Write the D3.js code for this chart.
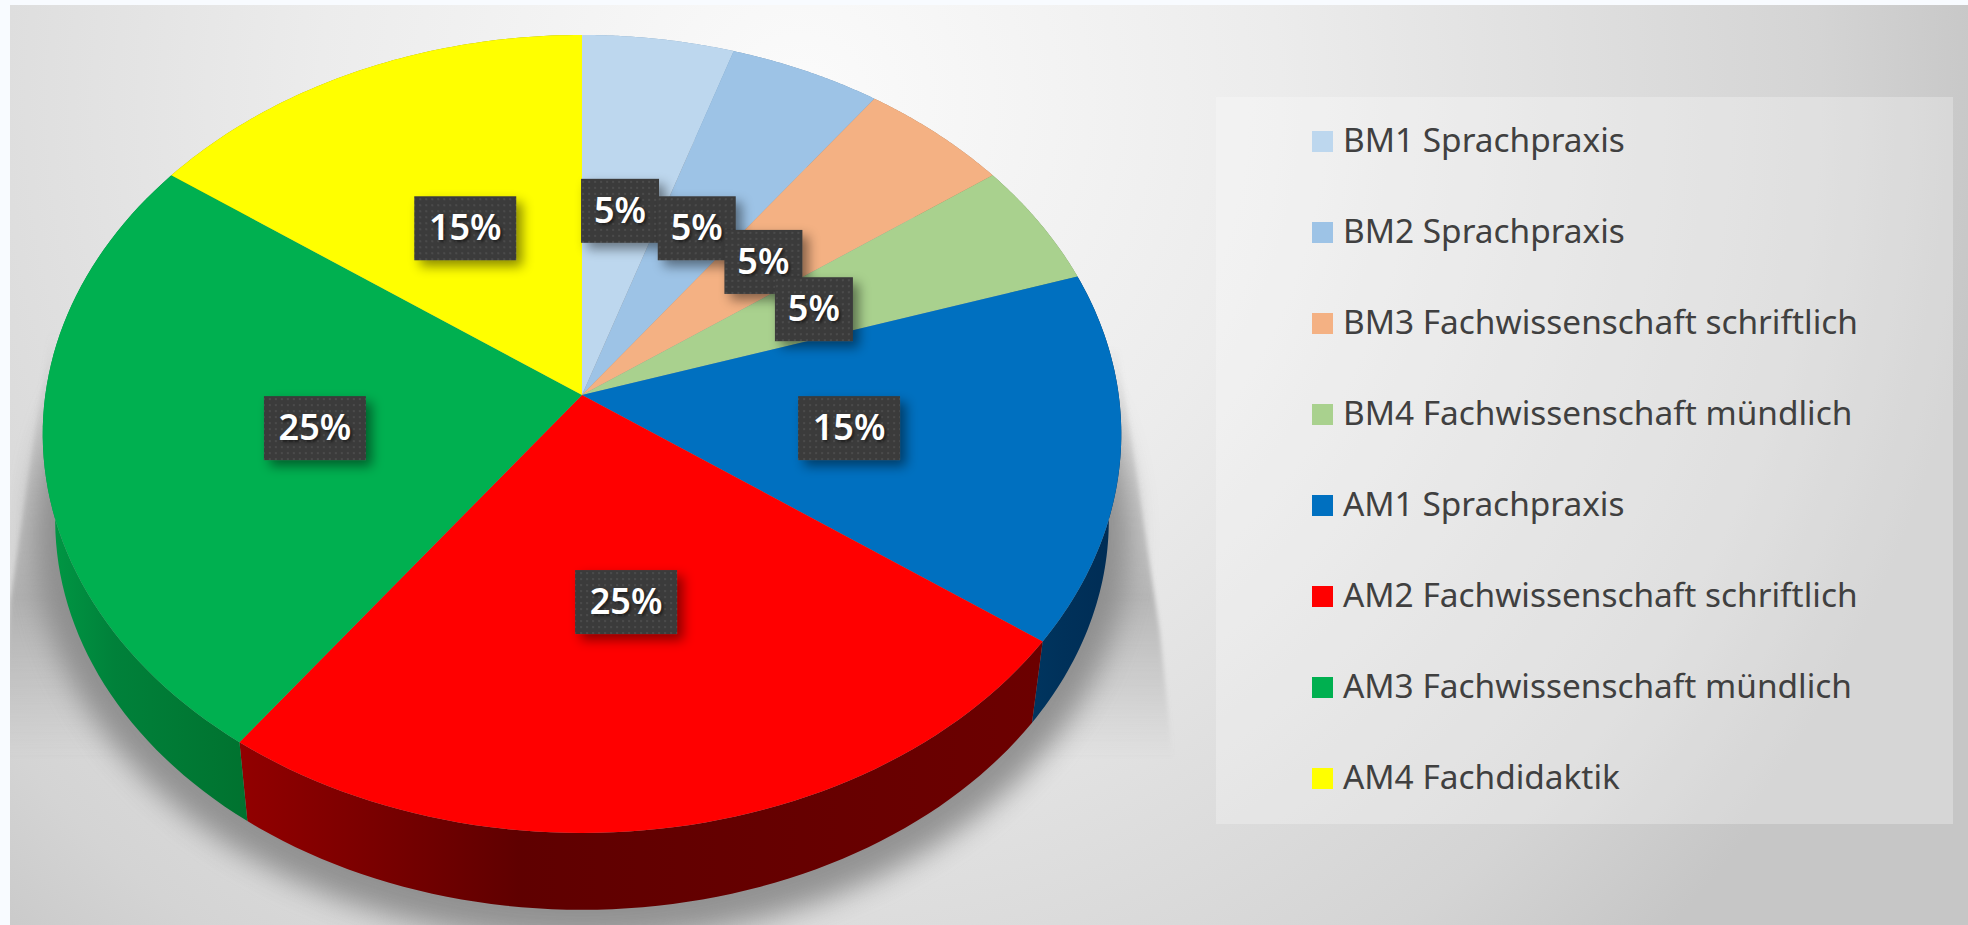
<!DOCTYPE html>
<html>
<head>
<meta charset="utf-8">
<script src="https://cdnjs.cloudflare.com/ajax/libs/d3/7.8.5/d3.min.js"></script>
<style>
  html, body { margin: 0; padding: 0; background: #f8fbff; overflow: hidden; }
</style>
</head>
<body>
<div id="chart"></div>
<script>
// data
var categories = ["BM1 Sprachpraxis", "BM2 Sprachpraxis", "BM3 Fachwissenschaft schriftlich",
    "BM4 Fachwissenschaft mündlich", "AM1 Sprachpraxis", "AM2 Fachwissenschaft schriftlich",
    "AM3 Fachwissenschaft mündlich", "AM4 Fachdidaktik"];
var values = [5, 5, 5, 5, 15, 25, 25, 15];
var colors = ["#bdd7ee", "#9dc3e6", "#f4b183", "#a9d18e", "#0070c0", "#ff0000", "#00b050", "#ffff00"];
// side wall shades, right / middle / left end of each slice
var sideColors = [["#7da0bf", "#7da0bf", "#7da0bf"], ["#6a8fb0", "#6a8fb0", "#6a8fb0"],
    ["#a87a58", "#a87a58", "#a87a58"], ["#739060", "#739060", "#739060"],
    ["#002c54", "#00315a", "#00355f"], ["#6c0000", "#5f0000", "#920000"],
    ["#00722f", "#00813a", "#009a45"], ["#a0a000", "#a0a000", "#a0a000"]];

var width = 1968, height = 925;

var svg = d3.select("#chart")
    .append("svg")
    .attr("width", width)
    .attr("height", height)
    .style("display", "block");

var defs = svg.append("defs");

// background of the chart area
var bg = defs.append("radialGradient").attr("id", "bg")
    .attr("gradientUnits", "userSpaceOnUse")
    .attr("cx", 800).attr("cy", 100).attr("r", 1200);
bg.append("stop").attr("offset", 0).attr("stop-color", "#fbfbfb");
bg.append("stop").attr("offset", 0.4).attr("stop-color", "#ececec");
bg.append("stop").attr("offset", 0.7).attr("stop-color", "#dcdcdc");
bg.append("stop").attr("offset", 0.85).attr("stop-color", "#d4d4d4");
bg.append("stop").attr("offset", 1).attr("stop-color", "#c6c6c6");

var blurBig = defs.append("filter").attr("id", "blurBig")
    .attr("x", "-20%").attr("y", "-20%").attr("width", "140%").attr("height", "140%");
blurBig.append("feGaussianBlur").attr("stdDeviation", 14);
var blurSmall = defs.append("filter").attr("id", "blurSmall")
    .attr("x", "-10%").attr("y", "-10%").attr("width", "120%").attr("height", "120%");
blurSmall.append("feGaussianBlur").attr("stdDeviation", 2);

var boxShadow = defs.append("filter").attr("id", "boxShadow")
    .attr("x", "-30%").attr("y", "-30%").attr("width", "170%").attr("height", "170%");
boxShadow.append("feDropShadow").attr("dx", 6).attr("dy", 6).attr("stdDeviation", 6)
    .attr("flood-color", "#000").attr("flood-opacity", 0.45);

var dots = defs.append("pattern").attr("id", "dots")
    .attr("patternUnits", "userSpaceOnUse").attr("width", 6).attr("height", 6);
dots.append("rect").attr("width", 6).attr("height", 6).attr("fill", "#3b3b3b");
dots.append("circle").attr("cx", 3).attr("cy", 3).attr("r", 0.9).attr("fill", "#525252");

var clip = defs.append("clipPath").attr("id", "panel");
clip.append("rect").attr("x", 10).attr("y", 5).attr("width", width - 10).attr("height", height - 5);

// perspective of the disc: top and bottom faces
var topFace = {cx: 582, cy: 395, a: 536.7, b: 395.2};
var bottomFace = {cx: 582, cy: 482, a: 524.3, b: 386};
var tilt = 0.0977;

function project(face, angle, r) {
    var u = r * Math.sin(angle), v = -r * Math.cos(angle), w = 1 - tilt * v;
    return [face.cx + face.a * u / w, face.cy + face.b * v / w];
}

function arcPoints(face, a0, a1) {
    return d3.range(0, 61).map(function (i) {
        return project(face, a0 + (a1 - a0) * i / 60, 1);
    });
}

var line = d3.line();
var pie = d3.pie().sort(null).value(function (d) { return d; });
var slices = pie(values);

var chart = svg.append("g").attr("clip-path", "url(#panel)");

chart.append("rect")
    .attr("x", 10).attr("y", 5).attr("width", width - 10).attr("height", height - 5)
    .attr("fill", "url(#bg)");

// shadow cone behind the disc
var cone = defs.append("linearGradient").attr("id", "cone")
    .attr("gradientUnits", "userSpaceOnUse")
    .attr("x1", 0).attr("y1", 330).attr("x2", 0).attr("y2", 925);
cone.append("stop").attr("offset", 0).attr("stop-color", "#909090").attr("stop-opacity", 0);
cone.append("stop").attr("offset", 0.45).attr("stop-color", "#909090").attr("stop-opacity", 0.55);
cone.append("stop").attr("offset", 0.72).attr("stop-color", "#909090").attr("stop-opacity", 0);
chart.append("path")
    .attr("d", line([[50, 330], [10, 603], [-10, 925], [1190, 925], [1160, 633], [1118, 350]]) + "Z")
    .attr("fill", "url(#cone)")
    .attr("filter", "url(#blurSmall)");

// soft dark shadow hugging the lower edge
chart.append("path")
    .attr("d", line(arcPoints({cx: 582, cy: 494, a: 545, b: 404}, 0, 2 * Math.PI)) + "Z")
    .attr("fill", "#8a8a8a")
    .attr("opacity", 0.9)
    .attr("filter", "url(#blurBig)");

// side wall, one piece per slice
slices.forEach(function (s, i) {
    var top = arcPoints(topFace, s.startAngle, s.endAngle);
    var bottom = arcPoints(bottomFace, s.startAngle, s.endAngle).reverse();
    var xs = top.concat(bottom).map(function (p) { return p[0]; });
    var g = defs.append("linearGradient").attr("id", "side" + i)
        .attr("gradientUnits", "userSpaceOnUse")
        .attr("x1", d3.max(xs)).attr("y1", 0).attr("x2", d3.min(xs)).attr("y2", 0);
    g.append("stop").attr("offset", 0).attr("stop-color", sideColors[i][0]);
    g.append("stop").attr("offset", 0.65).attr("stop-color", sideColors[i][1]);
    g.append("stop").attr("offset", 1).attr("stop-color", sideColors[i][2]);
    chart.append("path")
        .attr("d", line(top.concat(bottom)) + "Z")
        .attr("fill", "url(#side" + i + ")");
});

// top face
chart.selectAll("path.slice")
    .data(slices)
    .enter()
    .append("path")
    .attr("class", "slice")
    .attr("d", function (d) {
        return line([[topFace.cx, topFace.cy]].concat(arcPoints(topFace, d.startAngle, d.endAngle))) + "Z";
    })
    .attr("fill", function (d, i) { return colors[i]; });

// data labels
var labels = chart.selectAll("g.label")
    .data(slices)
    .enter()
    .append("g")
    .attr("class", "label")
    .attr("transform", function (d) {
        return "translate(" + project(topFace, (d.startAngle + d.endAngle) / 2, 0.5) + ")";
    });

labels.append("rect")
    .attr("x", function (d) { return d.value < 10 ? -41 : -51; })
    .attr("y", -30)
    .attr("width", function (d) { return d.value < 10 ? 78 : 102; })
    .attr("height", 64)
    .attr("fill", "url(#dots)")
    .attr("filter", "url(#boxShadow)");

labels.append("text")
    .attr("text-anchor", "middle")
    .attr("x", function (d) { return d.value < 10 ? -2 : 0; })
    .attr("y", 14)
    .attr("fill", "#fff")
    .style("font-family", "'Noto Sans', sans-serif")
    .style("font-size", "36px")
    .style("font-weight", 600)
    .style("text-shadow", "2px 2px 3px rgba(0,0,0,0.5)")
    .text(function (d) { return d.value + "%"; });

// legend
chart.append("rect")
    .attr("x", 1216).attr("y", 97).attr("width", 737).attr("height", 727)
    .attr("fill", "#fff")
    .attr("fill-opacity", 0.28);

var legendY = d3.scalePoint().domain(categories).range([141, 778]);

var legend = chart.selectAll("g.legend")
    .data(categories)
    .enter()
    .append("g")
    .attr("class", "legend")
    .attr("transform", function (d) { return "translate(0," + legendY(d) + ")"; });

legend.append("rect")
    .attr("x", 1312).attr("y", -10).attr("width", 21).attr("height", 21)
    .attr("fill", function (d, i) { return colors[i]; });

legend.append("text")
    .attr("x", 1343)
    .attr("y", 11)
    .attr("fill", "#404040")
    .style("font-family", "'Noto Sans', sans-serif")
    .style("font-size", "33.4px")
    .text(function (d) { return d; });
</script>
</body>
</html>
